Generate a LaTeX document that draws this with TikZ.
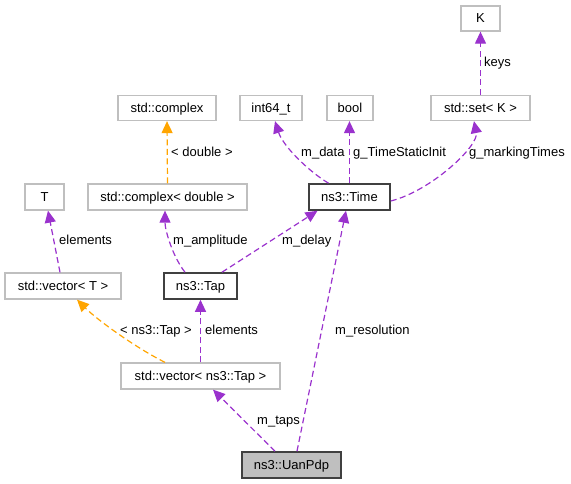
\documentclass[tikz,border=0pt]{standalone}
\usepackage{fontspec}
\setmainfont{Liberation Sans}
\usetikzlibrary{arrows.meta,calc}
\definecolor{edgepurple}{HTML}{9A32CD}
\definecolor{edgeorange}{HTML}{FFA500}
\definecolor{boxgray}{HTML}{BFBFBF}
\definecolor{boxdark}{HTML}{404040}
\tikzset{
  gbox/.style={draw=boxgray, fill=white, line width=1.3pt, inner sep=0pt, font=\fontsize{13}{15}\selectfont, text height=10.5pt, text depth=1.5pt},
  kbox/.style={gbox, draw=boxdark, line width=1.6pt},
  hbox/.style={kbox, fill=boxgray},
  pedge/.style={draw=edgepurple, line width=1.2pt, dash pattern=on 6pt off 3.5pt, -{Triangle[length=12pt,width=11pt,fill=edgepurple]}},
  oedge/.style={draw=edgeorange, line width=1.2pt, dash pattern=on 6pt off 3.5pt, -{Triangle[length=12pt,width=11pt,fill=edgeorange]}},
  lbl/.style={anchor=west, inner sep=0pt, font=\fontsize{13}{15}\selectfont, text height=10.5pt, text depth=1.5pt}
}
\begin{document}
\begin{tikzpicture}[x=1pt,y=-1pt]
\useasboundingbox (0,0) rectangle (571,484);
% nodes
\node[gbox, minimum width=39, minimum height=25] (K) at (480.5,18.5) {K};
\node[gbox, minimum width=99, minimum height=25] (set) at (480.5,108) {std::set< K >};
\node[gbox, minimum width=46, minimum height=25] (bool) at (350,108) {bool};
\node[gbox, minimum width=62, minimum height=25] (int) at (271,108) {int64\_t};
\node[gbox, minimum width=98, minimum height=25] (cplx) at (167,108) {std::complex};
\node[kbox, minimum width=81, minimum height=26] (Time) at (349.5,197) {ns3::Time};
\node[gbox, minimum width=39, minimum height=26] (T) at (44.5,197) {T};
\node[gbox, minimum width=159, minimum height=26] (cd) at (167.5,197) {std::complex< double >};
\node[gbox, minimum width=116, minimum height=26] (vT) at (63,286) {std::vector< T >};
\node[kbox, minimum width=73, minimum height=26] (Tap) at (200.5,286) {ns3::Tap};
\node[gbox, minimum width=159, minimum height=26] (vTap) at (200.5,376) {std::vector< ns3::Tap >};
\node[hbox, minimum width=99, minimum height=26] (Uan) at (291.5,465) {ns3::UanPdp};
% edges
\draw[pedge] (set.north) -- (K.south);
\draw[pedge] ([xshift=-21]Time.north) .. controls +(-20,-12) and +(8,25) .. ([xshift=4]int.south);
\draw[pedge] ([xshift=0]Time.north) -- ([xshift=-0.5]bool.south);
\draw[pedge] ([yshift=-4]Time.east) .. controls +(40,-10) and +(5,25) .. ([xshift=-6.5]set.south);
\draw[oedge] (cd.north) -- (cplx.south);
\draw[pedge] ([xshift=-3]vT.north) -- ([xshift=3.5]T.south);
\draw[pedge] ([xshift=-15.5]Tap.north) .. controls +(-12,-15) and +(0,20) .. ([xshift=-2.5]cd.south);
\draw[pedge] ([xshift=21.5]Tap.north) -- ([xshift=-32]Time.south);
\draw[oedge] ([xshift=-35.5]vTap.north) .. controls +(-30,-15) and +(20,20) .. ([xshift=14]vT.south);
\draw[pedge] (vTap.north) -- (Tap.south);
\draw[pedge] ([xshift=-16.5]Uan.north) -- ([xshift=12.5]vTap.south);
\draw[pedge] ([xshift=5.5]Uan.north) -- ([xshift=-3.5]Time.south);
% labels
\node[lbl] (lkeys) at (484,62) {keys};
\node[lbl] (ldata) at (301,152) {m\_data};
\node[lbl] (lstatic) at (353,152) {g\_TimeStaticInit};
\node[lbl] (lmark) at (469,152) {g\_markingTimes};
\node[lbl] (ldouble) at (171,152) {< double >};
\node[lbl] (lelT) at (59,240) {elements};
\node[lbl] (lamp) at (173,240) {m\_amplitude};
\node[lbl] (ldelay) at (282,240) {m\_delay};
\node[lbl] (ltap) at (120,330) {< ns3::Tap >};
\node[lbl] (lel) at (205,330) {elements};
\node[lbl] (ltaps) at (257,420) {m\_taps};
\node[lbl] (lres) at (335,330) {m\_resolution};
\end{tikzpicture}
\end{document}
